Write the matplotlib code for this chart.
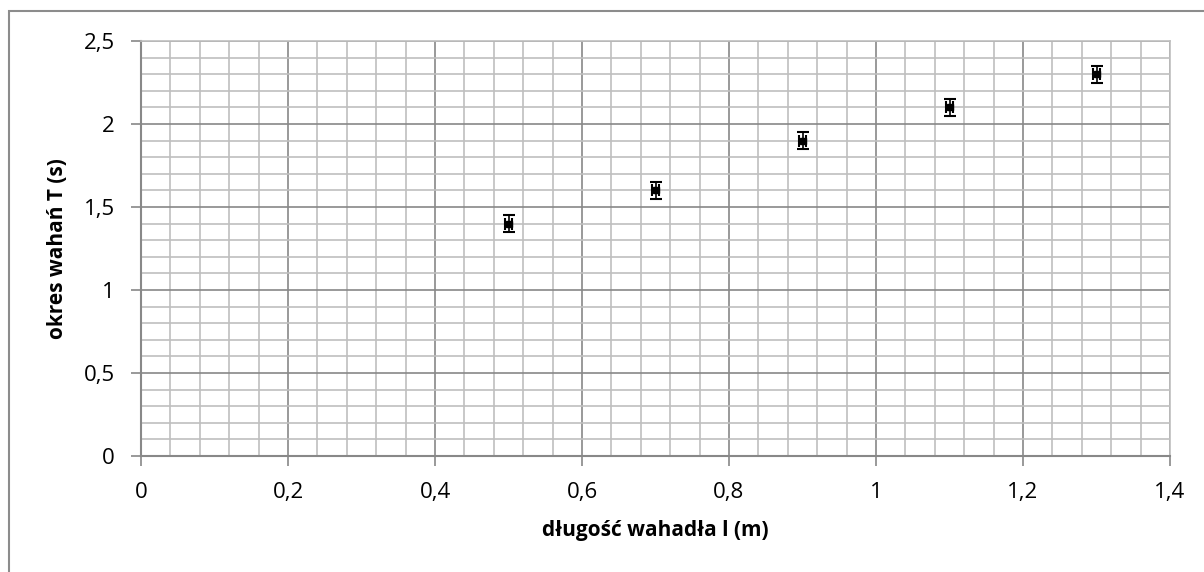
import numpy as np
import matplotlib.pyplot as plt
from matplotlib.ticker import MultipleLocator, FuncFormatter
from matplotlib.patches import Rectangle

plt.rcParams['font.family'] = ['Open Sans', 'DejaVu Sans']

dlugosc = [0.5, 0.7, 0.9, 1.1, 1.3]
okres = [1.4, 1.6, 1.9, 2.1, 2.3]
blad_T = [0.05, 0.05, 0.05, 0.05, 0.05]
blad_l = [0.005, 0.005, 0.005, 0.005, 0.005]

W, H = 1204, 572
fig = plt.figure(figsize=(W / 100, H / 100), dpi=100)
fig.patches.append(Rectangle((9 / W, -0.2), 1.2, 1.2 - 11 / H, transform=fig.transFigure,
                             fill=False, edgecolor='#8c8c8c', linewidth=1.5))

ax = fig.add_axes([141 / W, 1 - 456 / H, (1170 - 141) / W, (456 - 41) / H])
ax.errorbar(dlugosc, okres, yerr=blad_T, xerr=blad_l, fmt='s', color='black',
            markersize=5, capsize=4, elinewidth=1.2, capthick=1.5, zorder=5)

ax.set_xlim(0, 1.4)
ax.set_ylim(0, 2.5)
ax.xaxis.set_major_locator(MultipleLocator(0.2))
ax.xaxis.set_minor_locator(MultipleLocator(0.04))
ax.yaxis.set_major_locator(MultipleLocator(0.5))
ax.yaxis.set_minor_locator(MultipleLocator(0.1))
fmt = FuncFormatter(lambda v, p: ('%g' % round(v, 2)).replace('.', ','))
ax.xaxis.set_major_formatter(fmt)
ax.yaxis.set_major_formatter(fmt)

ax.grid(which='major', color='#888888', linewidth=1.2)
ax.grid(which='minor', color='#bfbfbf', linewidth=1.2)
ax.set_axisbelow(True)
ax.tick_params(which='minor', length=0)
ax.tick_params(which='major', length=7, width=1.2, color='#888888', labelsize=16,
               direction='out')
ax.tick_params(axis='x', pad=12)
ax.tick_params(axis='y', pad=12)
for s in ['top', 'right']:
    ax.spines[s].set_color('#bfbfbf')
    ax.spines[s].set_linewidth(1.2)
for s in ['left', 'bottom']:
    ax.spines[s].set_color('#888888')
    ax.spines[s].set_linewidth(1.5)

ax.set_xlabel('długość wahadła l (m)', fontsize=15, fontweight='bold')
ax.set_ylabel('okres wahań T (s)', fontsize=15, fontweight='bold')
ax.xaxis.set_label_coords(0.5, -0.155)
ax.yaxis.set_label_coords(-0.071, 0.5)

fig.savefig('out.png', dpi=100)
